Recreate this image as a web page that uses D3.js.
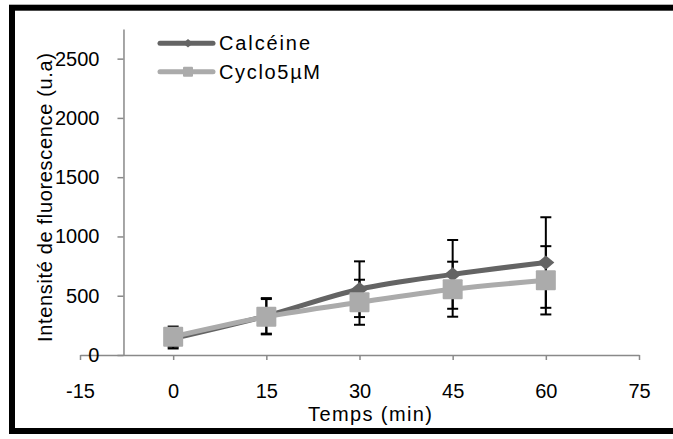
<!DOCTYPE html>
<html>
<head>
<meta charset="utf-8">
<script src="https://cdn.jsdelivr.net/npm/d3@7"></script>
<style>
  html, body { margin: 0; padding: 0; background: #fff; }
  svg { display: block; font-family: "Liberation Sans", Arial, sans-serif; }
</style>
</head>
<body>
<svg id="chart" width="673" height="439"></svg>
<script>
// ---- data ----
const times = [0, 15, 30, 45, 60];
const calceine = [140, 330, 555, 680, 780];
const calceineErr = [85, 150, 235, 290, 382];
const cyclo = [155, 323, 445, 555, 630];
const cycloErr = [85, 149, 190, 232, 288];
const xTicks = [-15, 0, 15, 30, 45, 60, 75];
const yTicks = [0, 500, 1000, 1500, 2000, 2500];
const seriesNames = ["Calcéine", "Cyclo5µM"];
const xTitle = "Temps (min)";
const yTitle = "Intensité de fluorescence (u.a)";

const svg = d3.select("#chart");
const x = d3.scaleLinear().domain([-15, 75]).range([80, 639]);
const y = d3.scaleLinear().domain([0, 2750]).range([355, 29]);
const yCross = -8;

const axisColor = "#898989";
const darkCol = "#646464";
const lightCol = "#ababab";
const fontFam = "Liberation Sans, Arial, sans-serif";

// frame
svg.append("rect").attr("x", 12).attr("y", 7.7).attr("width", 690).attr("height", 423.3)
  .attr("fill", "none").attr("stroke", "#000").attr("stroke-width", 6);

// x axis
const xAxisG = svg.append("g").attr("transform", `translate(0,${y(0)})`)
  .call(d3.axisBottom(x).tickValues(xTicks).tickFormat(d => String(d))
    .tickSize(5).tickSizeOuter(0).tickPadding(24));
xAxisG.attr("font-family", fontFam);
xAxisG.select(".domain").attr("stroke", axisColor).attr("stroke-width", 1.5);
xAxisG.selectAll(".tick line").attr("stroke", axisColor).attr("stroke-width", 1.5);
xAxisG.selectAll(".tick text").attr("font-size", 20).attr("fill", "#000");

// y axis
const yAxisG = svg.append("g").attr("transform", `translate(${x(yCross)},0)`)
  .call(d3.axisLeft(y).tickValues(yTicks).tickFormat(d => String(d))
    .tickSize(6).tickSizeOuter(0).tickPadding(18));
yAxisG.attr("font-family", fontFam);
yAxisG.select(".domain").attr("stroke", axisColor).attr("stroke-width", 1.5);
yAxisG.selectAll(".tick line").attr("stroke", axisColor).attr("stroke-width", 1.5);
yAxisG.selectAll(".tick text").attr("font-size", 20).attr("fill", "#000");

// axis titles
svg.append("text").attr("x", 370).attr("y", 421).attr("text-anchor", "middle")
  .attr("font-size", 20).attr("textLength", 124).text(xTitle);
svg.append("text").attr("transform", "translate(52,197.5) rotate(-90)")
  .attr("text-anchor", "middle").attr("font-size", 20).attr("textLength", 289).text(yTitle);

// error bars
const series = [
  { name: seriesNames[0], vals: calceine, err: calceineErr, color: darkCol, marker: "diamond" },
  { name: seriesNames[1], vals: cyclo, err: cycloErr, color: lightCol, marker: "square" }
];
const errG = svg.append("g");
series.forEach(s => {
  times.forEach((t, i) => {
    const cx = x(t), hi = y(s.vals[i] + s.err[i]), lo = y(s.vals[i] - s.err[i]);
    errG.append("line").attr("x1", cx).attr("x2", cx).attr("y1", hi).attr("y2", lo)
      .attr("stroke", "#000").attr("stroke-width", 2);
    [hi, lo].forEach(yy => errG.append("line").attr("x1", cx - 5.5).attr("x2", cx + 5.5)
      .attr("y1", yy).attr("y2", yy).attr("stroke", "#000").attr("stroke-width", 2));
  });
});

// lines
const line = d3.line().curve(d3.curveMonotoneX);
series.forEach(s => {
  svg.append("path").attr("d", line(times.map((t, i) => [x(t), y(s.vals[i])])))
    .attr("fill", "none").attr("stroke", s.color).attr("stroke-width", 5).attr("stroke-linejoin", "round");
});

// markers
function drawMarker(g, type, cx, cy, size, color) {
  if (type === "diamond") {
    const w = size / 2, h = size * 0.42;
    g.append("path").attr("d", `M${cx},${cy - h}L${cx + w},${cy}L${cx},${cy + h}L${cx - w},${cy}Z`).attr("fill", color);
  } else {
    g.append("rect").attr("x", cx - size / 2).attr("y", cy - size / 2).attr("width", size).attr("height", size)
      .attr("fill", color).attr("rx", 1);
  }
}
const mG = svg.append("g");
series.forEach(s => {
  times.forEach((t, i) => drawMarker(mG, s.marker, x(t), y(s.vals[i]), s.marker === "diamond" ? 17 : 20, s.color));
});

// legend
const legY = [43.3, 71.7];
series.forEach((s, i) => {
  svg.append("line").attr("x1", 160).attr("x2", 213).attr("y1", legY[i]).attr("y2", legY[i])
    .attr("stroke", s.color).attr("stroke-width", 5).attr("stroke-linecap", "round");
  drawMarker(svg, s.marker, 188, legY[i], 10, s.color);
  svg.append("text").attr("x", 219).attr("y", legY[i] + 7).attr("font-size", 20)
    .attr("textLength", i === 0 ? 91 : 101).text(s.name);
});
</script>
</body>
</html>
